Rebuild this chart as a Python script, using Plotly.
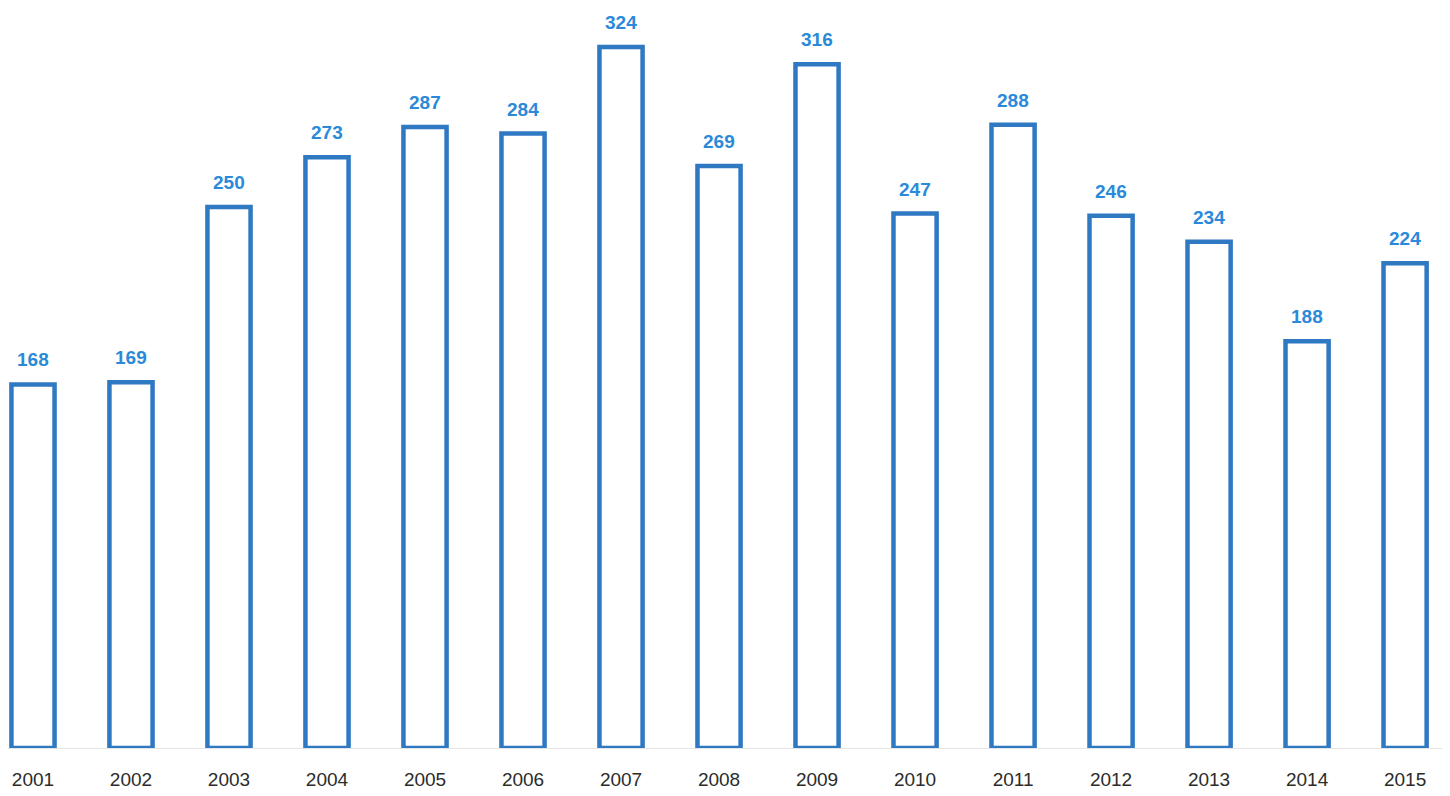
import plotly.graph_objects as go

years = ["2001", "2002", "2003", "2004", "2005", "2006", "2007", "2008",
         "2009", "2010", "2011", "2012", "2013", "2014", "2015"]
values = [168, 169, 250, 273, 287, 284, 324, 269, 316, 247, 288, 246, 234, 188, 224]

outline = "#2f78c2"
label_col = "#2a8ad9"
font_fam = "Arial, Liberation Sans, sans-serif"

fig = go.Figure()
fig.add_trace(go.Bar(
    x=list(range(len(years))), y=values,
    width=0.44,
    marker=dict(color="white", line=dict(color=outline, width=4.5)),
    hoverinfo="x+y",
))

for i, v in enumerate(values):
    fig.add_annotation(x=i, y=v, text=f"<b>{v}</b>", showarrow=False,
                       yanchor="bottom", yshift=12,
                       font=dict(family=font_fam, size=19, color=label_col))

fig.update_layout(
    width=1450, height=796,
    margin=dict(l=0, r=0, t=0, b=56),
    paper_bgcolor="white", plot_bgcolor="white",
    showlegend=False,
    xaxis=dict(range=[-0.255, 14.54], tickmode="array",
               tickvals=list(range(len(years))), ticktext=years,
               showgrid=False, zeroline=False, showline=True,
               linecolor="#e6e6e6", linewidth=1,
               ticks="", ticklabelstandoff=14,
               tickfont=dict(family=font_fam, size=19, color="#2b2b2b")),
    yaxis=dict(range=[0, 342], visible=False, showgrid=False, zeroline=False),
)

fig.write_html("out.html")
